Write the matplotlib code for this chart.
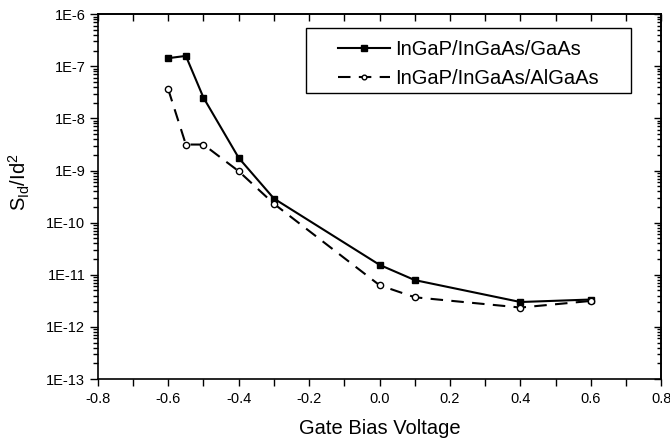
import matplotlib
matplotlib.use('Agg')
import matplotlib.pyplot as plt
import numpy as np
from matplotlib.patches import Rectangle
from matplotlib.ticker import FixedLocator, FuncFormatter, LogLocator, NullFormatter

plt.rcParams['font.family'] = ['Liberation Sans', 'DejaVu Sans']
plt.rcParams['mathtext.fontset'] = 'custom'
plt.rcParams['mathtext.rm'] = 'Liberation Sans'
plt.rcParams['mathtext.it'] = 'Liberation Sans'

gate_bias = [-0.6, -0.55, -0.5, -0.4, -0.3, 0.0, 0.1, 0.4, 0.6]
gaas = [1.43e-7, 1.58e-7, 2.5e-8, 1.75e-9, 2.9e-10, 1.55e-11, 7.9e-12, 3.0e-12, 3.35e-12]
algaas = [3.6e-8, 3.15e-9, 3.15e-9, 9.7e-10, 2.3e-10, 6.3e-12, 3.7e-12, 2.35e-12, 3.15e-12]

x_major = np.round(np.arange(-0.8, 0.81, 0.2), 1)
x_minor = np.round(np.arange(-0.7, 0.8, 0.2), 1)


def fmt_x(v, p):
    s = '%.1f' % v
    return '0.0' if s == '-0.0' else s


fig = plt.figure(figsize=(6.7, 4.42), dpi=100)
ax = fig.add_axes([0.146, 0.1425, 0.841, 0.8255])

ax.plot(gate_bias, gaas, '-', color='black', lw=1.5, marker='s', ms=5,
        mfc='black', mec='black', label='InGaP/InGaAs/GaAs')
ax.plot(gate_bias, algaas, '--', color='black', lw=1.5, dashes=(6, 4), marker='o', ms=4.5,
        mfc='white', mec='black', mew=1, label='InGaP/InGaAs/AlGaAs')

ax.set_yscale('log')
ax.set_xlim(-0.8, 0.8)
ax.set_ylim(1e-13, 1e-6)
ax.xaxis.set_major_locator(FixedLocator(x_major))
ax.xaxis.set_minor_locator(FixedLocator(x_minor))
ax.xaxis.set_major_formatter(FuncFormatter(fmt_x))
ax.yaxis.set_major_locator(LogLocator(base=10, numticks=20))
ax.yaxis.set_minor_locator(LogLocator(base=10, subs=np.arange(2, 10), numticks=20))
ax.yaxis.set_minor_formatter(NullFormatter())
ax.yaxis.set_major_formatter(FuncFormatter(lambda v, p: '1E%d' % round(np.log10(v))))

ax.tick_params(axis='both', which='both', labelsize=10.5, width=1, direction='out')
ax.tick_params(axis='x', which='both', length=5, pad=4)
ax.tick_params(axis='y', which='major', length=6, pad=3)
ax.tick_params(axis='y', which='minor', length=3.5)
for s in ax.spines.values():
    s.set_linewidth(1.2)

# top and right axes with inward ticks, no labels
top = ax.secondary_xaxis('top')
top.xaxis.set_major_locator(FixedLocator(x_major))
top.xaxis.set_minor_locator(FixedLocator(x_minor))
top.tick_params(axis='x', which='both', direction='in', length=5, width=1, labeltop=False)
top.spines['top'].set_linewidth(1.2)

right = ax.secondary_yaxis('right')
right.set_yscale('log')
right.yaxis.set_major_locator(LogLocator(base=10, numticks=20))
right.yaxis.set_minor_locator(LogLocator(base=10, subs=np.arange(2, 10), numticks=20))
right.tick_params(axis='y', which='major', direction='in', length=5, width=1, labelright=False)
right.tick_params(axis='y', which='minor', direction='in', length=3, width=1, labelright=False)
right.spines['right'].set_linewidth(1.2)

ax.set_xlabel('Gate Bias Voltage', fontsize=14.5, labelpad=10)
ax.set_ylabel(r'S$_{\mathrm{Id}}$/Id$^2$', fontsize=14.5)
ax.yaxis.set_label_coords(-0.117, 0.54)

# legend box drawn separately so the padding can match
ax.add_patch(Rectangle((0.3694, 0.7836), 0.5773, 0.178, transform=ax.transAxes,
                       fill=False, edgecolor='black', lw=1, zorder=5))
leg = ax.legend(loc='upper left', bbox_to_anchor=(0.4263, 0.929), fontsize=14.5,
                frameon=False, handlelength=2.6, handletextpad=0.25, borderpad=0,
                labelspacing=0.5, borderaxespad=0, markerscale=0.75)

fig.savefig('out.png', dpi=100)
